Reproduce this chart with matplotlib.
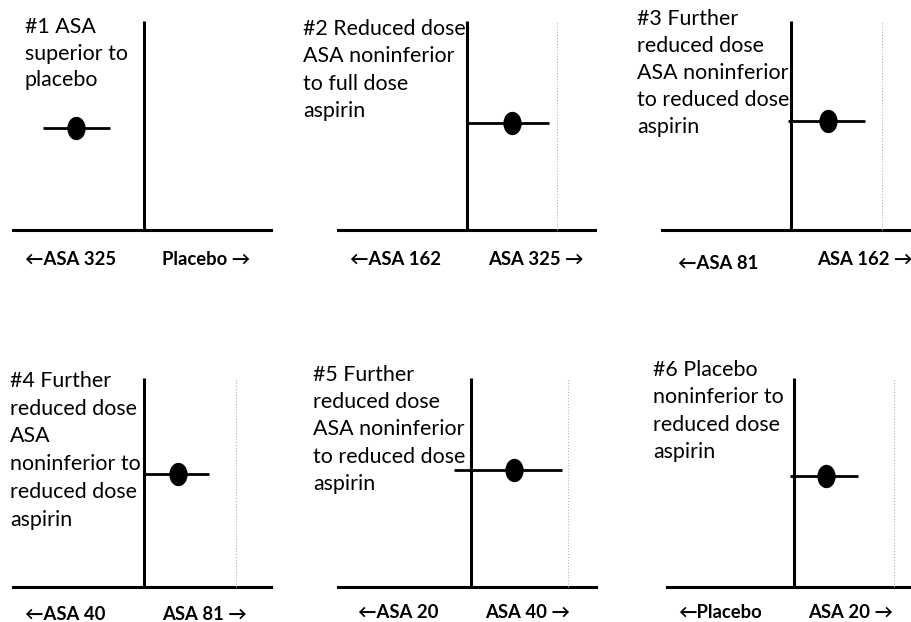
import matplotlib
matplotlib.use('Agg')
import matplotlib.pyplot as plt
from matplotlib.path import Path
from matplotlib.transforms import Affine2D

plt.rcParams['font.family'] = ['Lato', 'DejaVu Sans']

# panel texts
titles = ['#1 ASA\nsuperior to\nplacebo',
          '#2 Reduced dose\nASA noninferior\nto full dose\naspirin',
          '#3 Further\nreduced dose\nASA noninferior\nto reduced dose\naspirin',
          '#4 Further\nreduced dose\nASA\nnoninferior to\nreduced dose\naspirin',
          '#5 Further\nreduced dose\nASA noninferior\nto reduced dose\naspirin',
          '#6 Placebo\nnoninferior to\nreduced dose\naspirin']
left_labels = ['\u2190ASA 325', '\u2190ASA 162', '\u2190ASA 81',
               '\u2190ASA 40', '\u2190ASA 20', '\u2190Placebo']
right_labels = ['Placebo \u2192', 'ASA 325 \u2192', 'ASA 162 \u2192',
                'ASA 81 \u2192', 'ASA 40 \u2192', 'ASA 20 \u2192']

# effect estimates (0 = no difference, 1 = noninferiority margin)
estimate = [-0.74, 0.50, 0.41, 0.37, 0.44, 0.32]
ci_low = [-1.10, -0.01, -0.03, -0.01, -0.18, -0.04]
ci_high = [-0.37, 0.91, 0.81, 0.71, 0.94, 0.64]
est_y = [0.49, 0.51, 0.52, 0.54, 0.56, 0.53]
has_margin = [False, True, True, True, True, True]

#%% layout (pixels)
W, H = 912, 622
# left, right, baseline y, top y, zero x, px per unit
boxes = [(13, 271, 230, 21, 144, 92),
         (338, 595, 230, 21, 467, 90),
         (662, 912, 230, 21, 791, 91),
         (13, 271, 587, 378, 144, 92),
         (338, 596, 587, 378, 471, 97),
         (667, 912, 587, 378, 794, 100)]
title_pos = [(25, 33), (303, 35), (637, 25), (10, 387), (313, 381), (653, 376)]
title_step = [26.5, 27.3, 27.0, 27.7, 27.2, 27.4]
left_pos = [(25, 265), (350, 265), (678, 269), (25, 620), (358, 618), (678, 618)]
right_pos = [(162, 265), (488, 265), (817, 265), (162, 620), (485, 618), (808, 618)]

ell = Affine2D().scale(0.77, 1).transform_path(Path.unit_circle())

fig = plt.figure(figsize=(W/100, H/100), dpi=100)

for i in range(6):
    l, r, b, t, z, u = boxes[i]
    ax = fig.add_axes([l/W, 1-b/H, (r-l)/W, (b-t)/H])
    ax.set_xlim((l-z)/u, (r-z)/u)
    ax.set_ylim(0, 1)
    ax.axis('off')
    ax.axhline(0, color='black', lw=2.2, clip_on=False)
    ax.plot([0, 0], [0, 1], color='black', lw=2.2, clip_on=False, solid_capstyle='butt')
    if has_margin[i]:
        ax.plot([1, 1], [0, 1], color='#b0b0b0', lw=0.8, ls=':', clip_on=False)
    ax.plot([ci_low[i], ci_high[i]], [est_y[i], est_y[i]], color='black', lw=2.0,
            clip_on=False, solid_capstyle='butt')
    ax.plot(estimate[i], est_y[i], marker=ell, markersize=15.8, color='black',
            clip_on=False)

    tx, ty = title_pos[i]
    for k, line in enumerate(titles[i].split('\n')):
        fig.text(tx/W, 1-(ty+k*title_step[i])/H, line, fontsize=15.4,
                 va='baseline', ha='left')
    fig.text(left_pos[i][0]/W, 1-left_pos[i][1]/H, left_labels[i], fontsize=13.3,
             fontweight='bold', va='baseline', ha='left')
    fig.text(right_pos[i][0]/W, 1-right_pos[i][1]/H, right_labels[i], fontsize=13.3,
             fontweight='bold', va='baseline', ha='left')

fig.savefig('out.png', dpi=100)
